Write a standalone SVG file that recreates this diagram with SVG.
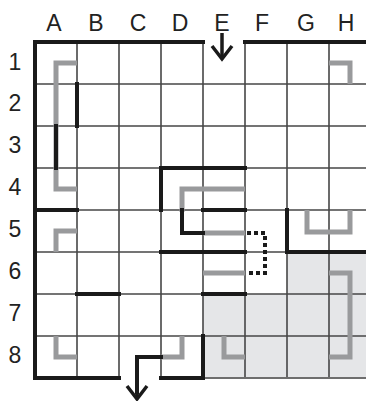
<svg xmlns="http://www.w3.org/2000/svg" width="366" height="401" viewBox="0 0 366 401">
<style>
.grid{stroke:#474747;stroke-width:1.6;fill:none}
.wall{stroke:#1a1a1a;stroke-width:4;fill:none;stroke-linecap:square;stroke-linejoin:miter}
.path{stroke:#999a9c;stroke-width:5;fill:none;stroke-linecap:butt;stroke-linejoin:miter}
.dot{stroke:#1a1a1a;stroke-width:4;fill:none;stroke-dasharray:4 3}
.arrow{stroke:#1a1a1a;stroke-width:3.5;fill:none;stroke-linecap:butt;stroke-linejoin:miter}
.lbl{font-family:"Liberation Sans",Arial,sans-serif;font-size:23px;fill:#222;text-anchor:middle}
</style>
<rect width="366" height="401" fill="#fff"/>
<g id="shading" fill="#e5e6e8">
<rect x="203" y="294" width="163" height="84"/>
<rect x="287" y="252" width="79" height="42"/>
</g>
<g id="grid" class="grid">
<path d="M77,42V378M119,42V378M161,42V378M203,42V378M245,42V378M287,42V378M329,42V378"/>
<path d="M35,84H366M35,126H366M35,168H366M35,210H366M35,252H366M35,294H366M35,336H366"/>
<path d="M203,378H366" stroke="#6e6e6e" stroke-width="2"/>
</g>
<g id="paths" class="path">
<path d="M77,63H56V189H77"/>
<path d="M329,63H350V84"/>
<path d="M245,189H182V212"/>
<path d="M203,233H245"/>
<path d="M203,273H245"/>
<path d="M307,210V232H350V210"/>
<path d="M329,273H350V357H329"/>
<path d="M224,336V357H245"/>
<path d="M56,252V231H77"/>
<path d="M56,336V357H77"/>
<path d="M161,357H182V336"/>
</g>
<g id="dotted">
<path class="dot" d="M247,233H265V273H247"/>
</g>
<g id="walls" class="wall">
<path d="M35,42H203M245,42H366"/>
<path d="M35,42V378"/>
<path d="M35,378H119M161,378H203"/>
<path d="M77,84V126"/>
<path d="M56,126V168"/>
<path d="M35,210H77"/>
<path d="M161,210V168H245"/>
<path d="M182,210V233H203"/>
<path d="M161,252H245"/>
<path d="M203,210H245"/>
<path d="M287,210V252H366"/>
<path d="M203,294H245"/>
<path d="M77,294H119"/>
<path d="M203,336V378"/>
<path d="M161,357H137V392"/>
</g>
<g id="arrows" class="arrow">
<path d="M222,33V58"/>
<path d="M212,46L222,59L232,46"/>
<path d="M137,390V398"/>
<path d="M127,386L137,399L147,386"/>
</g>
<g id="labels" class="lbl">
<text x="54" y="31">A</text>
<text x="96" y="31">B</text>
<text x="138" y="31">C</text>
<text x="180" y="31">D</text>
<text x="222" y="31">E</text>
<text x="262" y="31">F</text>
<text x="306" y="31">G</text>
<text x="346" y="31">H</text>
<text x="15" y="70">1</text>
<text x="15" y="111">2</text>
<text x="15" y="153">3</text>
<text x="15" y="195">4</text>
<text x="15" y="237">5</text>
<text x="15" y="279">6</text>
<text x="15" y="321">7</text>
<text x="15" y="363">8</text>
</g>
</svg>
